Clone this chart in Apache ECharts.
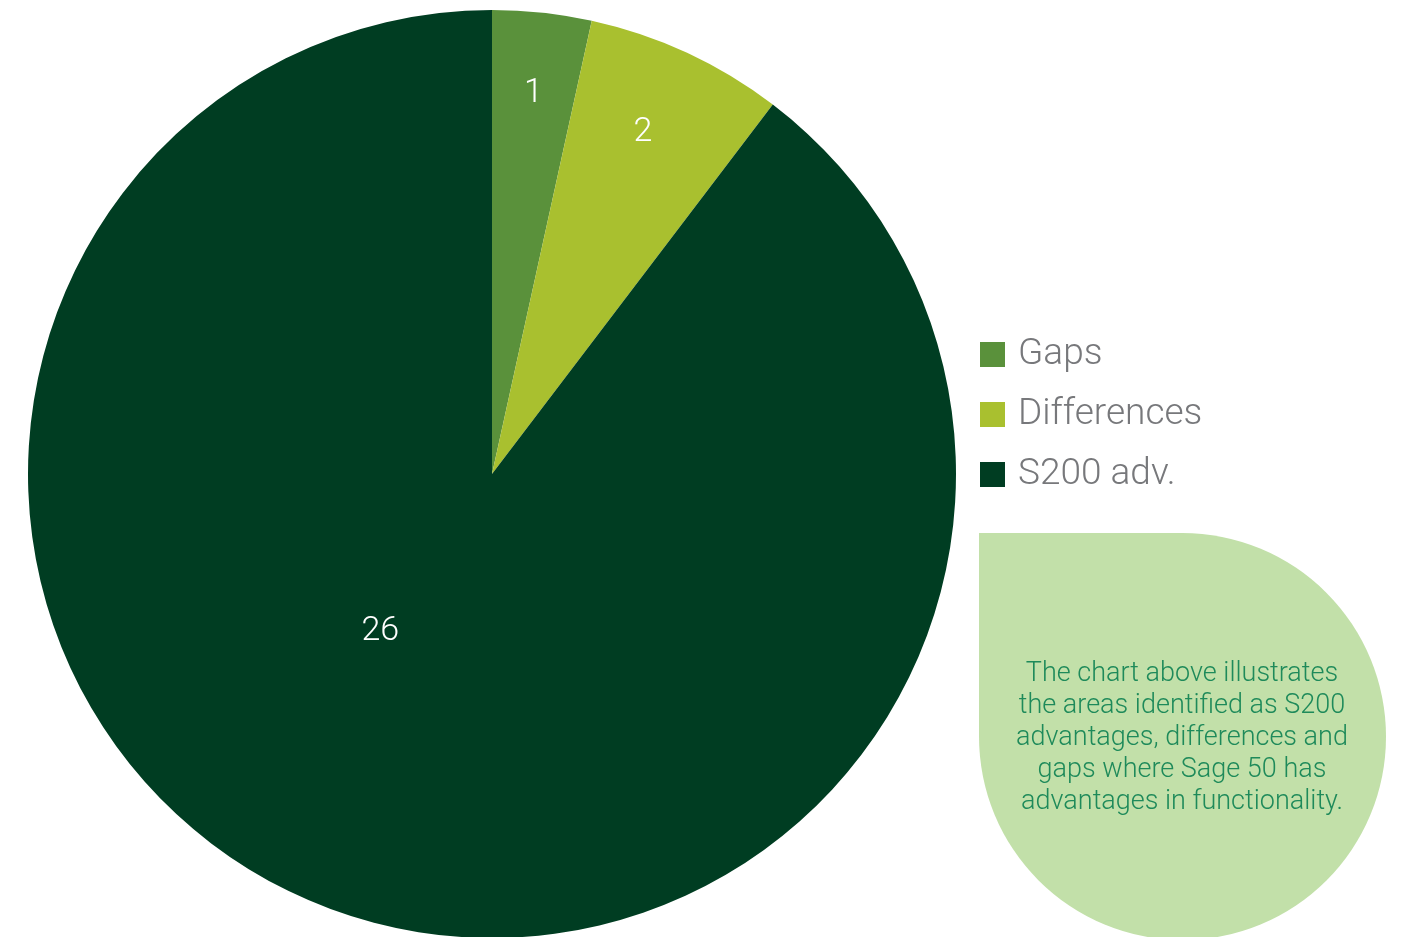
<!DOCTYPE html>
<html><head><meta charset="utf-8">
<script src="https://cdn.jsdelivr.net/npm/echarts@6/dist/echarts.min.js"></script>
<style>html,body{margin:0;padding:0;background:#fff}#c{width:1404px;height:937px}</style>
</head><body><div id="c"></div>
<script>
const categories = ['Gaps', 'Differences', 'S200 adv.'];
const values = [1, 2, 26];
const colors = ['#5a913b', '#a9c02f', '#003d22'];
const calloutLines = ['The chart above illustrates', 'the areas identified as S200', 'advantages, differences and', 'gaps where Sage 50 has', 'advantages in functionality.'];

const chart = echarts.init(document.getElementById('c'), null, {renderer: 'canvas'});
const center = [492, 474];
const data = categories.map((n, i) => ({name: n, value: values[i], itemStyle: {color: colors[i]}}));
const labelFont = {color: '#ffffff', fontSize: 34, fontFamily: 'Roboto', fontWeight: 300};
chart.setOption({
  animation: false,
  legend: {
    orient: 'vertical', left: 975, top: 331,
    itemWidth: 25, itemHeight: 25, itemGap: 23, icon: 'rect',
    textStyle: {color: '#77787b', fontSize: 37, fontFamily: 'Roboto', fontWeight: 300, padding: [0, 0, 0, 8]},
    data: categories
  },
  series: [
    {
      type: 'pie', center: center, radius: [0, 464], startAngle: 90, clockwise: true,
      silent: true, label: {show: false}, labelLine: {show: false}, data: data
    },
    {
      type: 'pie', center: center, radius: [296, 464], startAngle: 90, clockwise: true,
      silent: true, legendHoverLink: false,
      itemStyle: {color: 'transparent'}, labelLine: {show: false},
      label: Object.assign({show: true, position: 'inside', formatter: p => p.dataIndex < 2 ? String(p.value) : ''}, labelFont),
      data: categories.map((n, i) => ({name: n + ' ', value: values[i], itemStyle: {color: 'transparent'},
        label: i === 1 ? {offset: [-10, 6]} : {}}))
    },
    {
      type: 'pie', center: center, radius: [0, 380], startAngle: 90, clockwise: true,
      silent: true, legendHoverLink: false,
      itemStyle: {color: 'transparent'}, labelLine: {show: false},
      label: Object.assign({show: true, position: 'inside', offset: [-50, -25], formatter: p => p.dataIndex === 2 ? String(p.value) : ''}, labelFont),
      data: categories.map((n, i) => ({name: n + '  ', value: values[i], itemStyle: {color: 'transparent'}}))
    }
  ],
  graphic: [
    {type: 'rect', x: 979, y: 533, shape: {x: 0, y: 0, width: 407, height: 407, r: [0, 204, 204, 204]}, style: {fill: '#c2e0a9'}, silent: true},
    {type: 'text', x: 1182, y: 658, silent: true,
     style: {text: calloutLines.join('\n'), fill: '#1e8a5a', font: '300 27px Roboto', lineHeight: 32, align: 'center', verticalAlign: 'top'}}
  ]
});
</script></body></html>
